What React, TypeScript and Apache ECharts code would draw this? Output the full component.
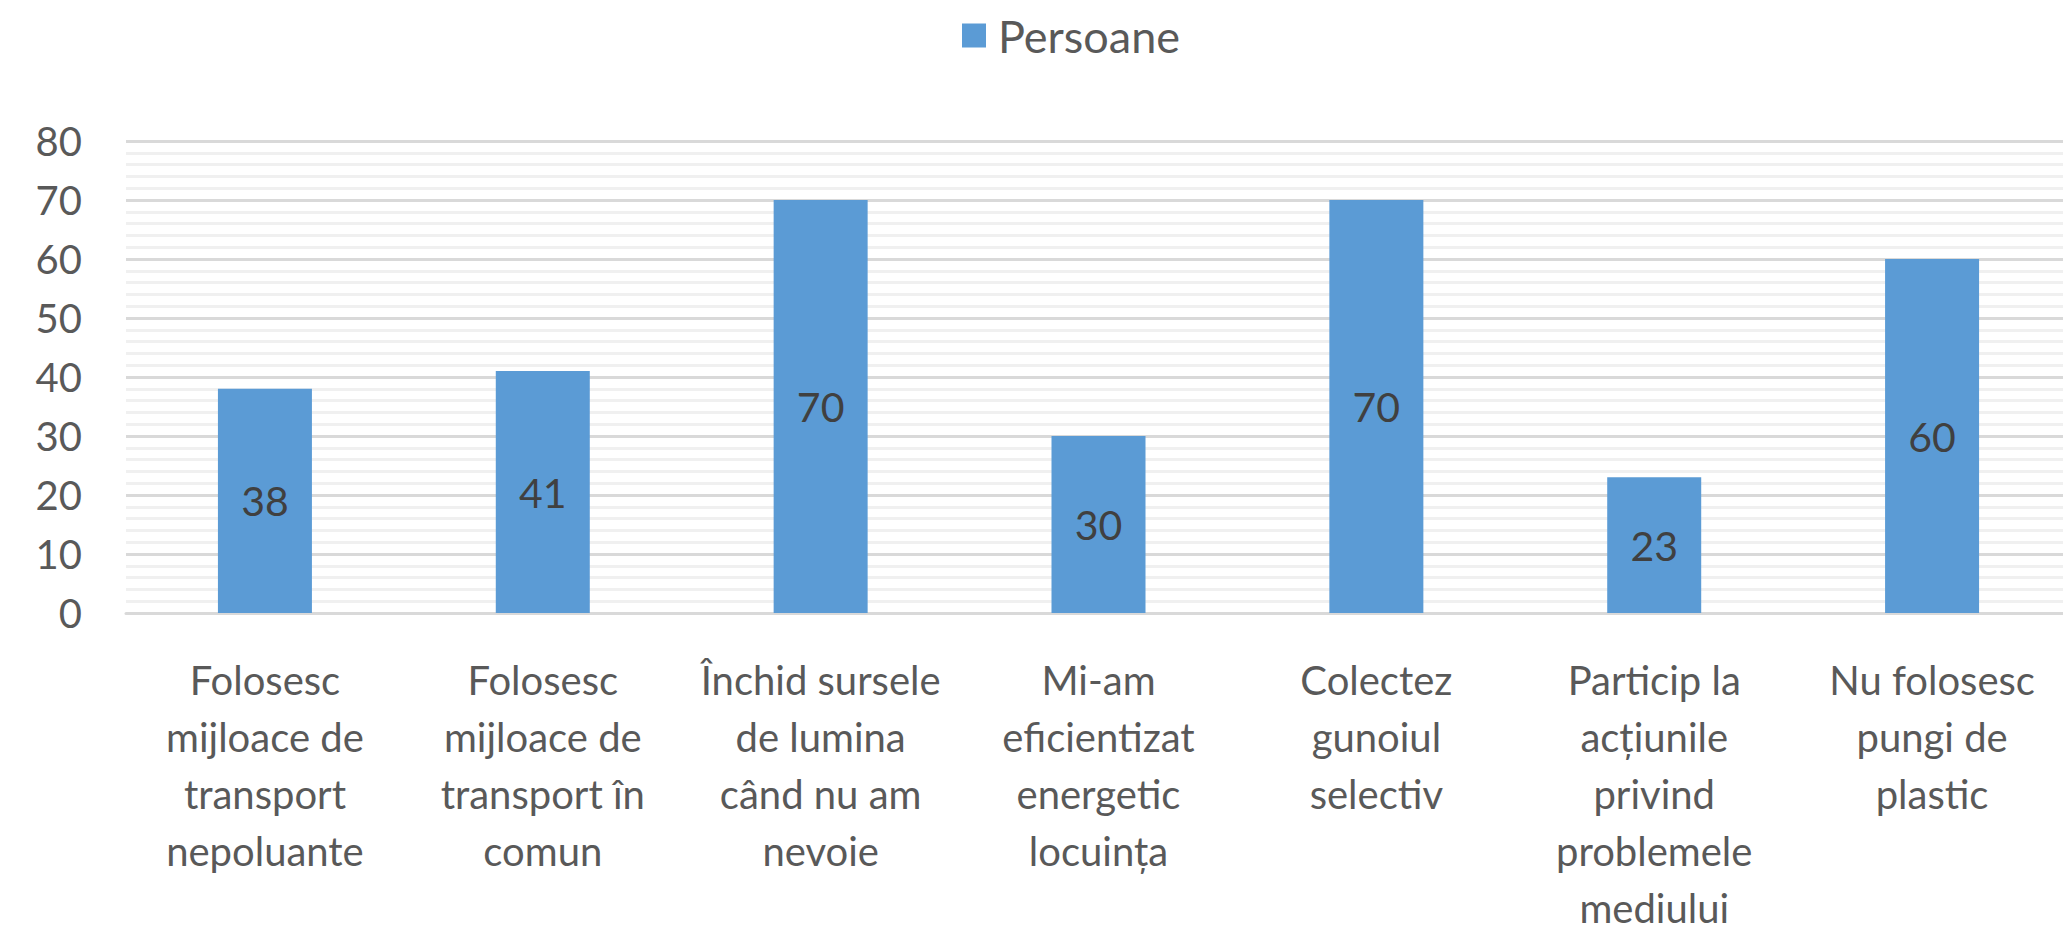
import React, { useEffect, useRef } from "react";
import * as echarts from "echarts";

const seriesName = "Persoane";
const categories = [
  "Folosesc\nmijloace de\ntransport\nnepoluante",
  "Folosesc\nmijloace de\ntransport în\ncomun",
  "Închid sursele\nde lumina\ncând nu am\nnevoie",
  "Mi-am\neficientizat\nenergetic\nlocuința",
  "Colectez\ngunoiul\nselectiv",
  "Particip la\nacțiunile\nprivind\nproblemele\nmediului",
  "Nu folosesc\npungi de\nplastic",
];
const values = [38, 41, 70, 30, 70, 23, 60];
const yMin = 0;
const yMax = 80;
const yInterval = 10;

const FONT = "Lato, 'Open Sans', sans-serif";

export default function App() {
  const ref = useRef<HTMLDivElement>(null);
  useEffect(() => {
    if (!ref.current) return;
    const chart = echarts.init(ref.current, undefined, { renderer: "svg" });
    chart.setOption({
      animation: false,
      backgroundColor: "#ffffff",
      textStyle: { fontFamily: FONT },
      legend: {
        data: [seriesName],
        left: 962,
        top: 13,
        padding: 0,
        icon: "rect",
        itemWidth: 24,
        itemHeight: 24,
        itemGap: 10,
        textStyle: { fontSize: 45, color: "#595959", fontFamily: FONT, padding: [0, 0, 0, 7] },
      },
      grid: {
        left: 126,
        width: 1945,
        top: 141,
        bottom: 936 - 613,
        containLabel: false,
        outerBoundsMode: "none",
      },
      xAxis: {
        type: "category",
        data: categories,
        axisLine: { show: true, lineStyle: { color: "#d9d9d9", width: 3 } },
        axisTick: { show: false },
        splitLine: { show: false },
        axisLabel: {
          interval: 0,
          margin: 38,
          fontSize: 40,
          lineHeight: 57,
          color: "#595959",
          fontFamily: FONT,
          align: "center",
        },
      },
      yAxis: {
        type: "value",
        min: yMin,
        max: yMax,
        interval: yInterval,
        axisLine: { show: false },
        axisTick: { show: false },
        axisLabel: { margin: 44, fontSize: 40, color: "#595959", fontFamily: FONT },
        splitLine: { show: true, lineStyle: { color: "#d9d9d9", width: 3 } },
        minorTick: { show: false, splitNumber: 5 },
        minorSplitLine: { show: true, lineStyle: { color: "#f0f0f0", width: 3 } },
      },
      series: [
        {
          name: seriesName,
          type: "bar",
          data: values,
          barWidth: 94,
          itemStyle: { color: "#5b9bd5" },
          label: {
            show: true,
            position: "inside",
            fontSize: 41,
            color: "#404040",
            fontFamily: FONT,
          },
        },
      ],
    });
    return () => chart.dispose();
  }, []);
  return (
    <div
      ref={ref}
      style={{ position: "absolute", left: 0, top: 0, width: 2063, height: 936 }}
    />
  );
}
